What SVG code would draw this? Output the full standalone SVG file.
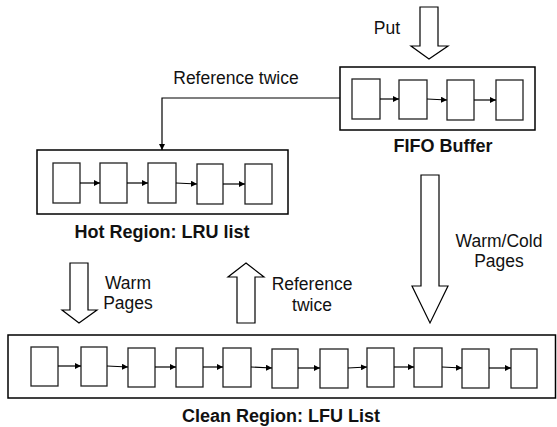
<svg xmlns="http://www.w3.org/2000/svg" width="557" height="427" viewBox="0 0 557 427">
<style>
.outer{fill:#fff;stroke:#000;stroke-width:1.5}
.cell{fill:#fff;stroke:#222;stroke-width:1.3}
.link{stroke:#000;stroke-width:1.2;fill:none}
.big{fill:#fff;stroke:#000;stroke-width:1.2}
.t{font-family:"Liberation Sans",Arial,sans-serif;font-size:17.5px;fill:#111;text-anchor:middle}
.b{font-family:"Liberation Sans",Arial,sans-serif;font-size:18px;font-weight:bold;fill:#111;text-anchor:middle}
</style>
<defs>
<marker id="ah" viewBox="0 0 10 10" refX="10" refY="5" markerWidth="6" markerHeight="6" markerUnits="userSpaceOnUse" orient="auto">
<path d="M0,0 L10,5 L0,10 z" fill="#000"/>
</marker>
</defs>
<rect width="557" height="427" fill="#fff"/>

<g id="fifo">
<rect class="outer" x="340" y="67" width="195" height="63"/>
<rect class="cell" x="352" y="79" width="28" height="40"/>
<rect class="cell" x="399" y="80" width="28" height="39"/>
<rect class="cell" x="447" y="80" width="27" height="40"/>
<rect class="cell" x="496" y="80" width="27" height="40"/>
<line class="link" x1="380" y1="99" x2="399" y2="99" marker-end="url(#ah)"/>
<line class="link" x1="427" y1="99" x2="447" y2="100" marker-end="url(#ah)"/>
<line class="link" x1="474" y1="100" x2="496" y2="100" marker-end="url(#ah)"/>
<text class="b" x="443" y="152">FIFO Buffer</text>
</g>

<g id="hot">
<rect class="outer" x="37" y="150" width="251" height="64"/>
<rect class="cell" x="53" y="163" width="27" height="40"/>
<rect class="cell" x="100" y="163" width="27" height="40"/>
<rect class="cell" x="148" y="163" width="28" height="40"/>
<rect class="cell" x="197" y="164" width="26" height="40"/>
<rect class="cell" x="245" y="164" width="27" height="40"/>
<line class="link" x1="80" y1="183" x2="100" y2="183" marker-end="url(#ah)"/>
<line class="link" x1="127" y1="183" x2="148" y2="183" marker-end="url(#ah)"/>
<line class="link" x1="176" y1="183" x2="197" y2="184" marker-end="url(#ah)"/>
<line class="link" x1="223" y1="184" x2="245" y2="184" marker-end="url(#ah)"/>
<text class="b" x="162" y="238">Hot Region: LRU list</text>
</g>

<g id="clean">
<rect class="outer" x="8" y="335" width="547.5" height="63"/>
<rect class="cell" x="31" y="347" width="27" height="39"/>
<rect class="cell" x="81" y="347" width="26" height="39"/>
<rect class="cell" x="128" y="348" width="27" height="39"/>
<rect class="cell" x="176" y="348" width="27" height="39"/>
<rect class="cell" x="223" y="348" width="28" height="39"/>
<rect class="cell" x="272" y="349" width="26" height="39"/>
<rect class="cell" x="320" y="349" width="28" height="39"/>
<rect class="cell" x="367" y="348" width="27" height="39"/>
<rect class="cell" x="414" y="348" width="28" height="39"/>
<rect class="cell" x="462" y="349" width="27" height="39"/>
<rect class="cell" x="511" y="349" width="26" height="39"/>
<line class="link" x1="58" y1="366" x2="81" y2="366" marker-end="url(#ah)"/>
<line class="link" x1="107" y1="366" x2="128" y2="367" marker-end="url(#ah)"/>
<line class="link" x1="155" y1="367" x2="176" y2="367" marker-end="url(#ah)"/>
<line class="link" x1="203" y1="367" x2="223" y2="367" marker-end="url(#ah)"/>
<line class="link" x1="251" y1="367" x2="272" y2="368" marker-end="url(#ah)"/>
<line class="link" x1="298" y1="368" x2="320" y2="368" marker-end="url(#ah)"/>
<line class="link" x1="348" y1="368" x2="367" y2="367" marker-end="url(#ah)"/>
<line class="link" x1="394" y1="367" x2="414" y2="367" marker-end="url(#ah)"/>
<line class="link" x1="442" y1="367" x2="462" y2="368" marker-end="url(#ah)"/>
<line class="link" x1="489" y1="368" x2="511" y2="368" marker-end="url(#ah)"/>
<text class="b" x="281" y="422">Clean Region: LFU List</text>
</g>

<g id="connectors">
<polyline class="link" points="340,98 162,98 162,150" marker-end="url(#ah)"/>
<polygon class="big" points="420,7 438,7 438,46 448,46 429,59 411,46 420,46"/>
<polygon class="big" points="70,263 88,263 88,310 97,310 79,323 62,310 70,310"/>
<polygon class="big" points="246,263 264,277 255,277 255,323 237,323 237,277 228,277"/>
<polygon class="big" points="421,175 439,175 439,286 448,286 430,323 412,286 421,286"/>
</g>

<g id="labels">
<text class="t" x="387" y="34">Put</text>
<text class="t" x="236" y="84">Reference twice</text>
<text class="t" x="128" y="289">Warm</text>
<text class="t" x="128" y="309">Pages</text>
<text class="t" x="312" y="290">Reference</text>
<text class="t" x="312" y="311">twice</text>
<text class="t" x="499" y="247">Warm/Cold</text>
<text class="t" x="499" y="267">Pages</text>
</g>
</svg>
